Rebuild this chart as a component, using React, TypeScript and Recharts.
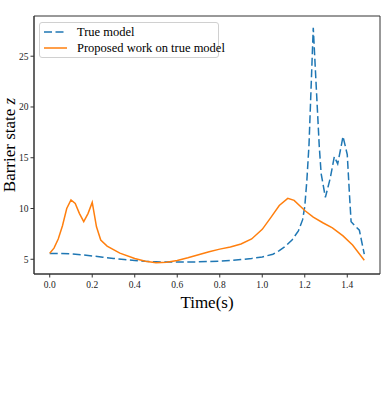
import React from "react";
import { LineChart, Line, XAxis, YAxis, Legend, ReferenceArea } from "recharts";

const trueTime = [0.0, 0.05, 0.1, 0.15, 0.2, 0.25, 0.3, 0.35, 0.4, 0.45, 0.5, 0.55, 0.6, 0.65, 0.7, 0.75, 0.8, 0.85, 0.9, 0.95, 1.0, 1.05, 1.08, 1.11, 1.14, 1.17, 1.19, 1.2, 1.21, 1.22, 1.24, 1.268, 1.277, 1.297, 1.32, 1.339, 1.355, 1.37, 1.38, 1.4, 1.41, 1.418, 1.44, 1.457, 1.48];
const trueValue = [5.58, 5.58, 5.53, 5.45, 5.33, 5.2, 5.08, 4.97, 4.88, 4.8, 4.75, 4.72, 4.72, 4.73, 4.75, 4.78, 4.82, 4.88, 4.97, 5.08, 5.23, 5.5, 5.85, 6.3, 6.9, 7.8, 8.9, 10.2, 12.8, 16.3, 27.8, 16.2, 13.45, 11.1, 13.0, 15.1, 14.4, 16.0, 17.1, 15.3, 11.5, 8.7, 8.2, 7.86, 5.5];

const propTime = [0.0, 0.02, 0.04, 0.06, 0.08, 0.1, 0.12, 0.14, 0.16, 0.18, 0.2, 0.22, 0.24, 0.27, 0.33, 0.4, 0.45, 0.5, 0.55, 0.6, 0.65, 0.7, 0.75, 0.8, 0.85, 0.9, 0.95, 1.0, 1.04, 1.08, 1.12, 1.15, 1.2, 1.24, 1.285, 1.33, 1.38, 1.425, 1.48];
const propValue = [5.6, 6.1, 7.0, 8.3, 10.0, 10.85, 10.5, 9.5, 8.7, 9.5, 10.6, 8.2, 6.9, 6.3, 5.6, 5.07, 4.8, 4.65, 4.7, 4.88, 5.15, 5.45, 5.75, 6.0, 6.2, 6.5, 7.0, 7.95, 9.1, 10.3, 11.0, 10.8, 9.8, 9.15, 8.6, 8.1, 7.3, 6.4, 4.9];

const xTicks = [0.0, 0.2, 0.4, 0.6, 0.8, 1.0, 1.2, 1.4];
const yTicks = [5, 10, 15, 20, 25];
const seriesNames = ["True model", "Proposed work on true model"];

const xDomain: [number, number] = [-0.074, 1.554];
const yDomain: [number, number] = [3.55, 28.96];

const trueData = trueTime.map((t, i) => ({ t, v: trueValue[i] }));
const propData = propTime.map((t, i) => ({ t, v: propValue[i] }));

const BLUE = "#1f77b4";
const ORANGE = "#ff7f0e";
const FONT = "Liberation Serif, DejaVu Serif, serif";
const DASH = "8 3.5";

const LegendBox = () => (
  <div
    style={{
      width: 180,
      height: 36,
      border: "1px solid #d0d0d0",
      borderRadius: 3,
      background: "rgba(255,255,255,0.8)",
      fontFamily: FONT,
      fontSize: 12.5,
      color: "#000",
      boxSizing: "border-box",
      position: "relative",
    }}
  >
    {seriesNames.map((name, i) => (
      <div key={name} style={{ position: "absolute", left: 4, top: 1 + i * 16, height: 16, display: "flex", alignItems: "center", whiteSpace: "nowrap" }}>
        <svg width={23} height={6} style={{ marginRight: 10 }}>
          <line x1={0} y1={3} x2={23} y2={3} stroke={i === 0 ? BLUE : ORANGE} strokeWidth={1.5} strokeDasharray={i === 0 ? DASH : undefined} />
        </svg>
        <span>{name}</span>
      </div>
    ))}
  </div>
);

export default function App() {
  return (
    <div style={{ position: "absolute", left: 0, top: 0, width: 389, height: 397, background: "#fff" }}>
      <LineChart width={389} height={397} margin={{ top: 16, right: 9, left: 0, bottom: 0 }}>
        <XAxis
          type="number"
          dataKey="t"
          domain={xDomain}
          ticks={xTicks}
          allowDataOverflow
          tickFormatter={(v: number) => v.toFixed(1)}
          height={123}
          tickSize={3.5}
          tickMargin={4}
          stroke="#333"
          tick={{ fill: "#222", fontSize: 9.5, fontFamily: FONT }}
          label={{ value: "Time(s)", position: "insideTop", offset: 22, style: { fontSize: 17, fontFamily: FONT, fill: "#000" } }}
        />
        <YAxis
          type="number"
          dataKey="v"
          domain={yDomain}
          ticks={yTicks}
          allowDataOverflow
          width={34}
          tickSize={3.5}
          tickMargin={2}
          stroke="#333"
          tick={{ fill: "#222", fontSize: 9.5, fontFamily: FONT }}
          label={(props: any) => {
            const vb = props.viewBox || {};
            const cy = (vb.y ?? 16) + (vb.height ?? 258) / 2;
            return (
              <text x={15} y={cy} transform={`rotate(-90, 15, ${cy})`} textAnchor="middle" fontSize={17} fontFamily={FONT} fill="#000">
                Barrier state <tspan fontStyle="italic">z</tspan>
              </text>
            );
          }}
        />
        <ReferenceArea x1={xDomain[0]} x2={xDomain[1]} y1={yDomain[0]} y2={yDomain[1]} fill="none" stroke="#333" strokeWidth={1} ifOverflow="visible" />
        <Line data={trueData} dataKey="v" name={seriesNames[0]} type="linear" stroke={BLUE} strokeWidth={1.5} strokeDasharray={DASH} dot={false} isAnimationActive={false} />
        <Line data={propData} dataKey="v" name={seriesNames[1]} type="linear" stroke={ORANGE} strokeWidth={1.5} dot={false} isAnimationActive={false} />
        <Legend
          layout="vertical"
          align="center"
          verticalAlign="middle"
          content={() => <LegendBox />}
          wrapperStyle={{ position: "absolute", left: 39, top: 22, width: 180, height: 36 }}
        />
      </LineChart>
    </div>
  );
}
